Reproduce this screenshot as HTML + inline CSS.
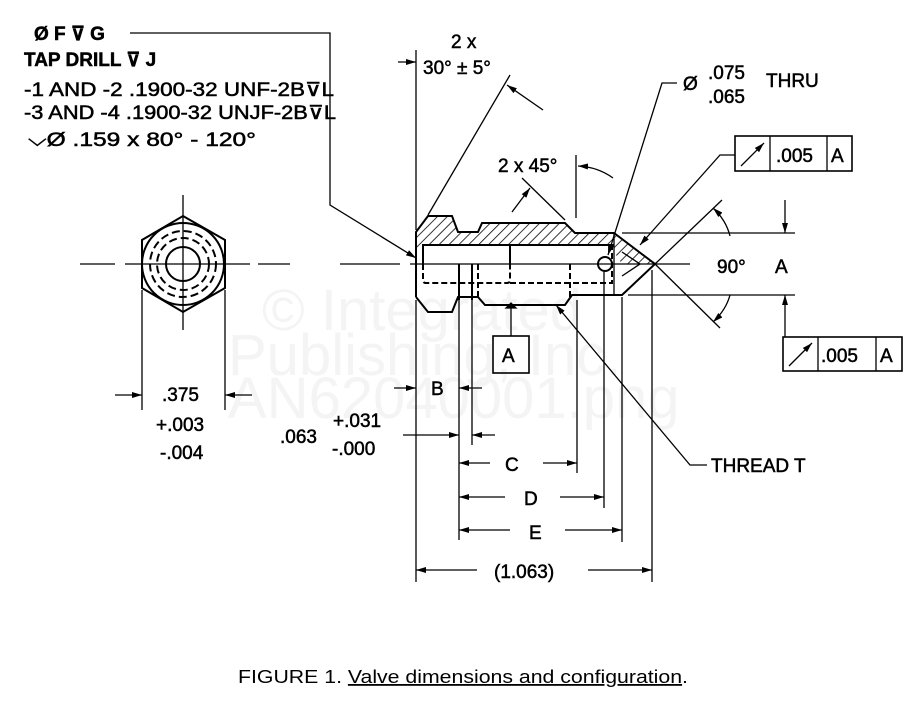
<!DOCTYPE html>
<html><head><meta charset="utf-8"><style>
html,body{margin:0;padding:0;background:#fff}
svg{display:block}
text{font-family:"Liberation Sans",Arial,sans-serif;fill:#000}
.t text{stroke:#000;stroke-width:0.5}
</style></head><body>
<svg width="914" height="710" viewBox="0 0 914 710" xmlns="http://www.w3.org/2000/svg">
<defs>
<marker id="a" viewBox="0 0 10 6" refX="10" refY="3" markerWidth="10" markerHeight="6" markerUnits="userSpaceOnUse" orient="auto"><path d="M0,0L10,3L0,6z" fill="#000"/></marker>
<pattern id="h" patternUnits="userSpaceOnUse" width="7" height="7" patternTransform="rotate(45)"><line x1="0" y1="0" x2="0" y2="7" stroke="#000" stroke-width="1.6"/></pattern>
</defs>
<g font-size="58">
<text x="262" y="330" style="fill:#f4f4f4">© Integrated</text>
<text x="228" y="375" style="fill:#f4f4f4">Publishing, Inc.</text>
<text x="228" y="418" style="fill:#f4f4f4">AN62040001.png</text>
</g>
<g stroke="#000" stroke-width="1.3" fill="none">
<line x1="80" y1="264" x2="115" y2="264"/><line x1="125" y1="264" x2="250" y2="264"/><line x1="258" y1="264" x2="290" y2="264"/>
<line x1="340" y1="264" x2="400" y2="264"/><line x1="410" y1="264" x2="690" y2="264"/>
<line x1="183" y1="195" x2="183" y2="330"/>
<polygon points="183,216 225,240 225,288 183,312 142,288 142,240" stroke-width="2"/>
<circle cx="183" cy="264" r="41" stroke-width="2"/>
<circle cx="183" cy="264" r="33" stroke-dasharray="8,4" stroke-width="2"/>
<circle cx="183" cy="264" r="26" stroke-dasharray="8,4" stroke-width="2"/>
<circle cx="183" cy="264" r="17" stroke-width="2"/>
<line x1="142" y1="290" x2="142" y2="410"/><line x1="225" y1="290" x2="225" y2="410"/>
<line x1="115" y1="395" x2="142" y2="395" marker-end="url(#a)"/>
<line x1="252" y1="395" x2="225" y2="395" marker-end="url(#a)"/>
</g>
<path d="M416,232 L428,216 L452,216 L458,232 L478,232 L482,223 L565,223 L575,233 L614,233 L614,245 L423,245 L423,250 L416,250Z" fill="url(#h)" stroke="none"/>
<path d="M614,233 L655,264 L622,264 L614,252Z" fill="url(#h)" stroke="none"/>
<g stroke="#000" stroke-width="2" fill="none">
<path d="M416,297 L416,232 L428,216 L452,216 L458,232 L478,232 L482,223 L565,223 L575,233 L614,233 L655,264 L622,295 L572,295 L565,305 L485,305 L478,297 L458,297 L452,312 L428,312 L416,297"/>
<path d="M423,264 L423,245 L614,245 M510,245 L510,264"/>
<path d="M423,264 L423,280 Q423,283 426,283 L507,283 Q510,283 510,280 L510,264" stroke-dasharray="6,3"/>
<path d="M510,283 L612,283 L612,245" stroke-dasharray="6,3"/>
<path d="M478,297 L478,264 M570,264 L570,297" stroke-dasharray="6,3"/>
<line x1="459" y1="264" x2="459" y2="300"/><line x1="472" y1="264" x2="472" y2="300"/>
<line x1="614" y1="233" x2="614" y2="295" stroke-width="1.3"/>
<path d="M622,252 L640,264 L622,276" stroke-width="1.3"/>
<circle cx="605" cy="264" r="7"/>
</g>
<g stroke="#000" stroke-width="1.3" fill="none">
<polyline points="130,33 330,33 330,205 416,258" marker-end="url(#a)"/>
<line x1="416" y1="50" x2="416" y2="230"/>
<line x1="398" y1="62" x2="416" y2="62" marker-end="url(#a)"/>
<line x1="428" y1="215" x2="510" y2="75"/>
<line x1="543" y1="110" x2="507" y2="85" marker-end="url(#a)"/>
<line x1="576" y1="155" x2="576" y2="218"/>
<path d="M613,178 Q598,167 578,166" marker-end="url(#a)"/>
<line x1="522" y1="178" x2="565" y2="220"/>
<line x1="512" y1="212" x2="530" y2="188" marker-end="url(#a)"/>
<polyline points="677,83 662,83 608,255" marker-end="url(#a)"/>
<polyline points="735,155 720,155 640,245" marker-end="url(#a)"/>
<line x1="655" y1="264" x2="722" y2="200"/>
<line x1="655" y1="264" x2="720" y2="328"/>
<path d="M730,236 Q726,220 713,208" marker-end="url(#a)"/>
<path d="M730,295 Q726,310 713,322" marker-end="url(#a)"/>
<line x1="622" y1="233" x2="795" y2="233"/>
<line x1="628" y1="295" x2="795" y2="295"/>
<line x1="785" y1="200" x2="785" y2="233" marker-end="url(#a)"/>
<line x1="785" y1="337" x2="785" y2="295" marker-end="url(#a)"/>
<rect x="735" y="136" width="117" height="35" stroke-width="1.6"/>
<line x1="770" y1="136" x2="770" y2="171"/><line x1="827" y1="136" x2="827" y2="171"/>
<line x1="741" y1="166" x2="764" y2="143" marker-end="url(#a)"/>
<rect x="783" y="337" width="119" height="34" stroke-width="1.6"/>
<line x1="818" y1="337" x2="818" y2="371"/><line x1="876" y1="337" x2="876" y2="371"/>
<line x1="789" y1="366" x2="812" y2="343" marker-end="url(#a)"/>
<rect x="493" y="336" width="36" height="37" stroke-width="1.6"/>
<line x1="511" y1="336" x2="511" y2="308"/>
<path d="M506,308 L516,308 L511,303Z" fill="#000"/>
<polyline points="707,465 690,465 556,305" marker-end="url(#a)"/>
<line x1="416" y1="300" x2="416" y2="582"/>
<line x1="459" y1="300" x2="459" y2="540"/>
<line x1="472" y1="300" x2="472" y2="445"/>
<line x1="577" y1="300" x2="577" y2="473"/>
<line x1="604" y1="272" x2="604" y2="508"/>
<line x1="622" y1="297" x2="622" y2="542"/>
<line x1="652" y1="270" x2="652" y2="582"/>
<line x1="394" y1="388" x2="416" y2="388" marker-end="url(#a)"/>
<line x1="482" y1="388" x2="459" y2="388" marker-end="url(#a)"/>
<line x1="403" y1="435" x2="459" y2="435" marker-end="url(#a)"/>
<line x1="495" y1="435" x2="472" y2="435" marker-end="url(#a)"/>
<line x1="490" y1="463" x2="459" y2="463" marker-end="url(#a)"/>
<line x1="543" y1="463" x2="577" y2="463" marker-end="url(#a)"/>
<line x1="505" y1="497" x2="459" y2="497" marker-end="url(#a)"/>
<line x1="560" y1="497" x2="604" y2="497" marker-end="url(#a)"/>
<line x1="510" y1="530" x2="459" y2="530" marker-end="url(#a)"/>
<line x1="565" y1="530" x2="622" y2="530" marker-end="url(#a)"/>
<line x1="477" y1="570" x2="416" y2="570" marker-end="url(#a)"/>
<line x1="588" y1="570" x2="652" y2="570" marker-end="url(#a)"/>
</g>
<g font-size="19" class="t">
<text x="34" y="40" font-weight="bold">Ø F ⊽ G</text>
<text x="24" y="66" font-weight="bold">TAP DRILL ⊽ J</text>
<text x="24" y="96" textLength="310" lengthAdjust="spacingAndGlyphs">-1 AND -2 .1900-32 UNF-2B⊽L</text>
<text x="24" y="119" textLength="312" lengthAdjust="spacingAndGlyphs">-3 AND -4 .1900-32 UNJF-2B⊽L</text>
<text x="28" y="146" textLength="228" lengthAdjust="spacingAndGlyphs">⌵Ø .159 x 80° - 120°</text>
<text x="451" y="48">2 x</text>
<text x="423" y="74">30° ± 5°</text>
<text x="498" y="172">2 x 45°</text>
<text x="683" y="90">Ø</text>
<text x="708" y="79">.075</text>
<text x="708" y="103">.065</text>
<text x="766" y="87">THRU</text>
<text x="776" y="162">.005</text>
<text x="831" y="162">A</text>
<text x="821" y="362">.005</text>
<text x="880" y="362">A</text>
<text x="717" y="273">90°</text>
<text x="775" y="273">A</text>
<text x="502" y="362">A</text>
<text x="431" y="395">B</text>
<text x="280" y="443">.063</text>
<text x="333" y="427">+.031</text>
<text x="332" y="455">-.000</text>
<text x="505" y="471">C</text>
<text x="524" y="505">D</text>
<text x="529" y="539">E</text>
<text x="494" y="578">(1.063)</text>
<text x="711" y="472">THREAD T</text>
<text x="162" y="401">.375</text>
<text x="156" y="431">+.003</text>
<text x="160" y="459">-.004</text>
</g>
<text x="238" y="683" font-size="18" textLength="450" lengthAdjust="spacingAndGlyphs">FIGURE 1.  <tspan text-decoration="underline">Valve dimensions and configuration</tspan>.</text>
</svg>
</body></html>
